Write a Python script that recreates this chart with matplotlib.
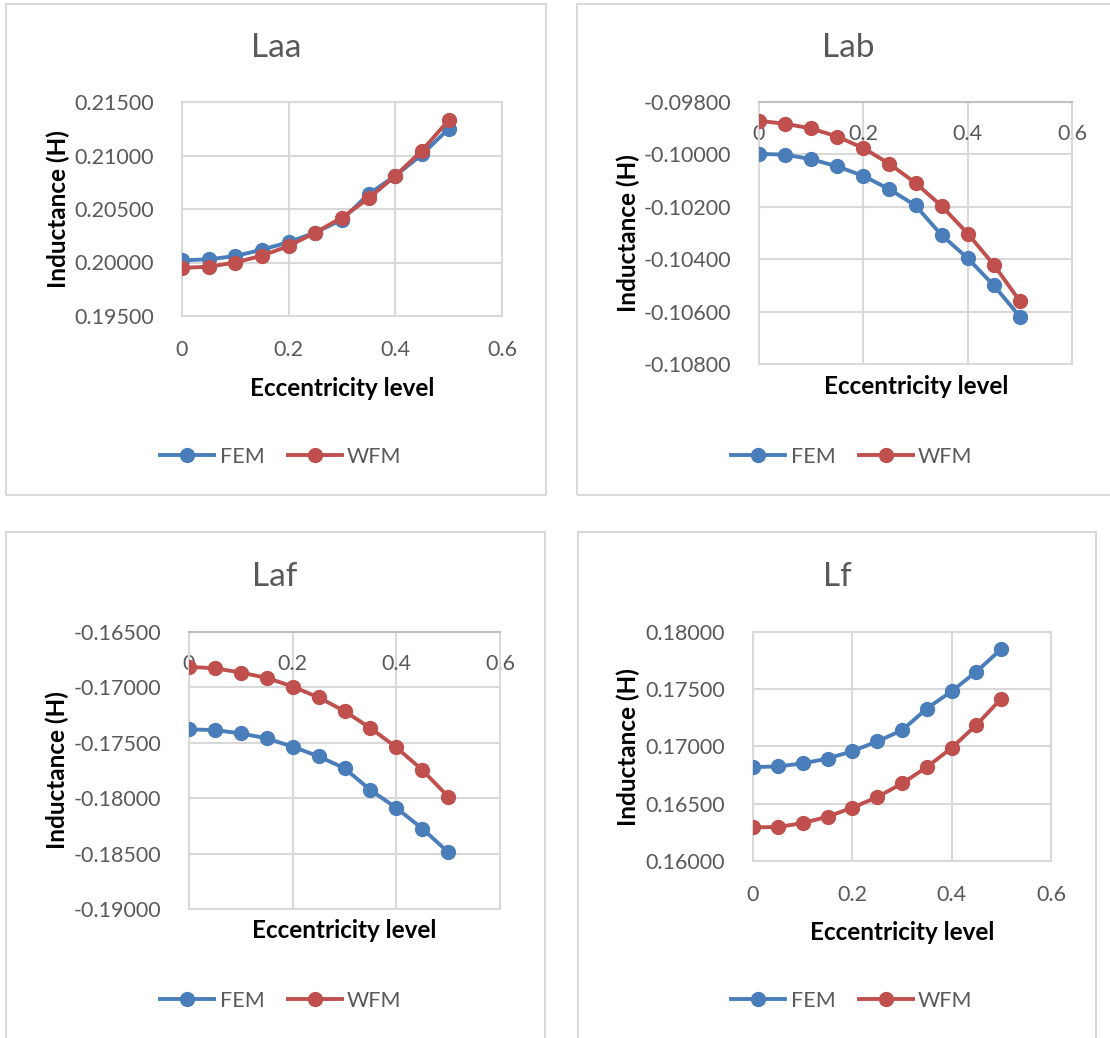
import matplotlib
matplotlib.use("Agg")
import matplotlib.pyplot as plt
from matplotlib.patches import Rectangle
from matplotlib.ticker import FormatStrFormatter

plt.rcParams["font.family"] = ["Lato", "DejaVu Sans"]

ecc = [0, 0.05, 0.1, 0.15, 0.2, 0.25, 0.3, 0.35, 0.4, 0.45, 0.5]

laa_fem = [0.20020, 0.20030, 0.20060, 0.20120, 0.20190, 0.20280, 0.20400, 0.20640, 0.20810, 0.21010, 0.21250]
laa_wfm = [0.19950, 0.19960, 0.20000, 0.20064, 0.20154, 0.20280, 0.20420, 0.20600, 0.20810, 0.21046, 0.21330]

lab_fem = [-0.09998, -0.10001, -0.10018, -0.10046, -0.10082, -0.10133, -0.10195, -0.10308, -0.10396, -0.10500, -0.10619]
lab_wfm = [-0.09872, -0.09883, -0.09901, -0.09932, -0.09976, -0.10036, -0.10109, -0.10197, -0.10302, -0.10421, -0.10560]

laf_fem = [-0.17379, -0.17385, -0.17415, -0.17460, -0.17535, -0.17622, -0.17730, -0.17926, -0.18088, -0.18274, -0.18487]
laf_wfm = [-0.16815, -0.16827, -0.16866, -0.16914, -0.16992, -0.17091, -0.17214, -0.17367, -0.17541, -0.17745, -0.17986]

lf_fem = [0.16820, 0.16826, 0.16852, 0.16895, 0.16959, 0.17044, 0.17142, 0.17331, 0.17483, 0.17654, 0.17852]
lf_wfm = [0.16294, 0.16297, 0.16331, 0.16387, 0.16465, 0.16558, 0.16677, 0.16820, 0.16988, 0.17189, 0.17419]

xticks = [0, 0.2, 0.4, 0.6]

BLUE = "#4A7EBB"
RED = "#C0504D"
GRID = "#D9D9D9"
TXT = "#595959"

W, H = 1110, 1038
fig = plt.figure(figsize=(W / 100, H / 100), dpi=100)


def fx(px):
    return px / W


def fy(py):
    return 1 - py / H


# panel specs: (title, fem, wfm, ylim, yticks, box, plot area, title pos, xlabel pos, ylabel pos, legend pos, labels on top)
panels = [
    ("Laa", laa_fem, laa_wfm, (0.195, 0.215), [0.195, 0.200, 0.205, 0.210, 0.215],
     (6, 4, 546, 495), (182, 102, 502, 316), (276, 48), (342, 388), (58, 209), (281, 457), False),
    ("Lab", lab_fem, lab_wfm, (-0.108, -0.098), [-0.108, -0.106, -0.104, -0.102, -0.100, -0.098],
     (577, 4, 1112, 495), (759, 102, 1072, 364), (848, 48), (916, 387), (628, 233), (852, 457), True),
    ("Laf", laf_fem, laf_wfm, (-0.19, -0.165), [-0.190, -0.185, -0.180, -0.175, -0.170, -0.165],
     (6, 532, 545, 1042), (189, 632, 500, 909), (275, 577), (344, 931), (57, 770), (281, 1001), True),
    ("Lf", lf_fem, lf_wfm, (0.16, 0.18), [0.160, 0.165, 0.170, 0.175, 0.180],
     (578, 532, 1096, 1042), (753, 632, 1051, 861), (837, 577), (902, 932), (628, 747), (852, 1001), False),
]

for (title, fem, wfm, ylim, yticks, box, area, tpos, xlpos, ylpos, lgpos, top) in panels:
    # chart border
    bx0, by0, bx1, by1 = box
    fig.patches.append(Rectangle((fx(bx0), fy(by1)), fx(bx1 - bx0), (by1 - by0) / H,
                                 transform=fig.transFigure, fill=False,
                                 edgecolor=GRID, linewidth=1.5, zorder=0))

    x0, y0, x1, y1 = area
    ax = fig.add_axes([fx(x0), fy(y1), fx(x1 - x0), (y1 - y0) / H])
    ax.plot(ecc, fem, color=BLUE, lw=2.8, marker="o", ms=10, label="FEM", zorder=3)
    ax.plot(ecc, wfm, color=RED, lw=2.8, marker="o", ms=10, label="WFM", zorder=4)

    ax.set_xlim(0, 0.6)
    ax.set_ylim(*ylim)
    ax.set_xticks(xticks)
    ax.set_yticks(yticks)
    ax.xaxis.set_major_formatter(FormatStrFormatter("%g"))
    ax.yaxis.set_major_formatter(FormatStrFormatter("%.5f"))
    ax.grid(True, color=GRID, lw=1.5)
    ax.set_axisbelow(True)
    for s in ax.spines.values():
        s.set_color(GRID)
        s.set_linewidth(1.5)
    ax.tick_params(axis="y", length=0, labelsize=15.5, labelcolor=TXT, pad=20)
    if top:
        ax.spines["top"].set_color("#BFBFBF")
        ax.tick_params(axis="x", length=0, labelsize=15.5, labelcolor=TXT,
                       labelbottom=False, labeltop=True, pad=-30)
    else:
        ax.tick_params(axis="x", length=0, labelsize=15.5, labelcolor=TXT, pad=17)

    fig.text(fx(tpos[0]), fy(tpos[1]), title, fontsize=24, color=TXT, ha="center", va="center")
    fig.text(fx(xlpos[0]), fy(xlpos[1]), "Eccentricity level", fontsize=17.5, fontweight="bold",
             ha="center", va="center")
    fig.text(fx(ylpos[0]), fy(ylpos[1]), "Inductance (H)", fontsize=17.5, fontweight="bold",
             ha="center", va="center", rotation=90)

    leg = ax.legend(loc="center", bbox_to_anchor=(fx(lgpos[0]), fy(lgpos[1])),
                    bbox_transform=fig.transFigure, ncol=2, frameon=False,
                    fontsize=15.5, handlelength=2.5, handletextpad=0.25, columnspacing=1.1)
    for t in leg.get_texts():
        t.set_color(TXT)

fig.savefig("out.png", dpi=100, facecolor="white")
